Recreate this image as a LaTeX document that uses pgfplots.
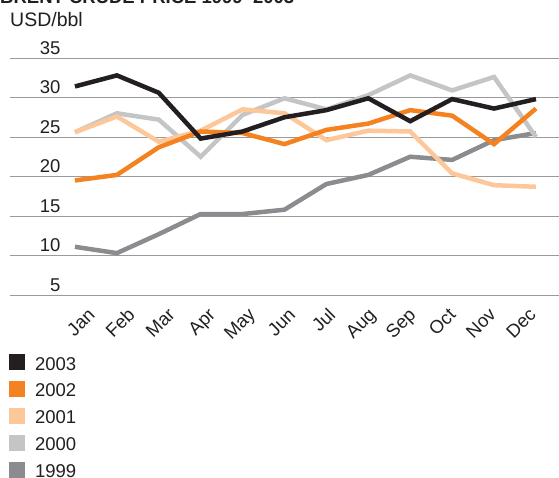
\documentclass[border=0pt]{standalone}
\usepackage{fontspec}
\setmainfont{Liberation Sans}
\usepackage{pgfplots}
\pgfplotsset{compat=1.18}
\definecolor{c2003}{HTML}{231F20}
\definecolor{c2002}{HTML}{F58220}
\definecolor{c2001}{HTML}{FDC79A}
\definecolor{c2000}{HTML}{C4C5C7}
\definecolor{c1999}{HTML}{8B8C8F}
\definecolor{txt}{HTML}{231F20}
\definecolor{gridc}{HTML}{9A9A9A}
\newcommand{\fs}{\fontsize{18.5}{22}\selectfont}
\begin{document}
\begin{tikzpicture}[x=1pt,y=1pt]
\begin{axis}[
  at={(10pt,182pt)}, anchor=south west,
  scale only axis, width=549pt, height=237pt,
  xmin=-1.55, xmax=11.55, ymin=5, ymax=35,
  axis line style={draw=none},
  ytick={5,10,...,35},
  ymajorgrids, grid style={gridc, line width=1pt},
  major tick length=0pt,
  xtick={0.501,1.458,2.415,3.372,4.329,5.286,6.243,7.200,8.158,9.115,10.072,11.029},
  xticklabels={Jan,Feb,Mar,Apr,May,Jun,Jul,Aug,Sep,Oct,Nov,Dec},
  xticklabel style={yshift=-21pt, rotate=45, anchor=base east, inner sep=0pt},
  yticklabel style={anchor=base east, inner sep=0pt, xshift=50.7pt, yshift=4pt},
  tick label style={font=\fs, text=txt},
  /pgf/number format/assume math mode=true,
  clip=false,
  no marks,
  every axis plot/.append style={line width=4.5pt},
  legend style={at={(axis description cs:-0.0018,-0.249)}, anchor=north west,
    draw=none, fill=none, inner sep=0pt, outer sep=0pt, font=\fs, text=txt,
    row sep=9.4pt, column sep=10pt, cells={anchor=base west}, nodes={inner sep=0pt}},
  reverse legend,
  legend image code/.code={\fill[#1, draw=none] (0pt,0pt) rectangle (16pt,16pt);},
]
\addplot[c1999] coordinates {(0,11.1) (1,10.3) (2,12.7) (3,15.25) (4,15.25) (5,15.8) (6,19.05) (7,20.2) (8,22.5) (9,22.1) (10,24.6) (11,25.5)};
\addlegendentry{1999}
\addplot[c2000] coordinates {(0,25.6) (1,28.0) (2,27.2) (3,22.5) (4,27.8) (5,29.9) (6,28.5) (7,30.3) (8,32.8) (9,30.9) (10,32.6) (11,25.0)};
\addlegendentry{2000}
\addplot[c2001] coordinates {(0,25.6) (1,27.6) (2,24.4) (3,25.8) (4,28.5) (5,28.0) (6,24.6) (7,25.8) (8,25.7) (9,20.4) (10,18.9) (11,18.7)};
\addlegendentry{2001}
\addplot[c2002] coordinates {(0,19.5) (1,20.2) (2,23.7) (3,25.7) (4,25.5) (5,24.1) (6,25.9) (7,26.7) (8,28.4) (9,27.7) (10,24.1) (11,28.6)};
\addlegendentry{2002}
\addplot[c2003] coordinates {(0,31.4) (1,32.8) (2,30.6) (3,24.8) (4,25.7) (5,27.5) (6,28.4) (7,29.9) (8,27.0) (9,29.8) (10,28.6) (11,29.8)};
\addlegendentry{2003}
\end{axis}
\node[anchor=base west, inner sep=0pt, font=\fontsize{19.5}{23}\selectfont, text=txt] at (10,450.3) {USD/bbl};
\begin{scope}
\clip (0,467) rectangle (559,477);
\node[anchor=base west, inner sep=0pt, font=\fs\bfseries, text=txt] at (0,473) {BRENT CRUDE PRICE 1999–2003};
\end{scope}
\pgfresetboundingbox
\path[use as bounding box] (0,0) rectangle (559,477);
\end{tikzpicture}
\end{document}
